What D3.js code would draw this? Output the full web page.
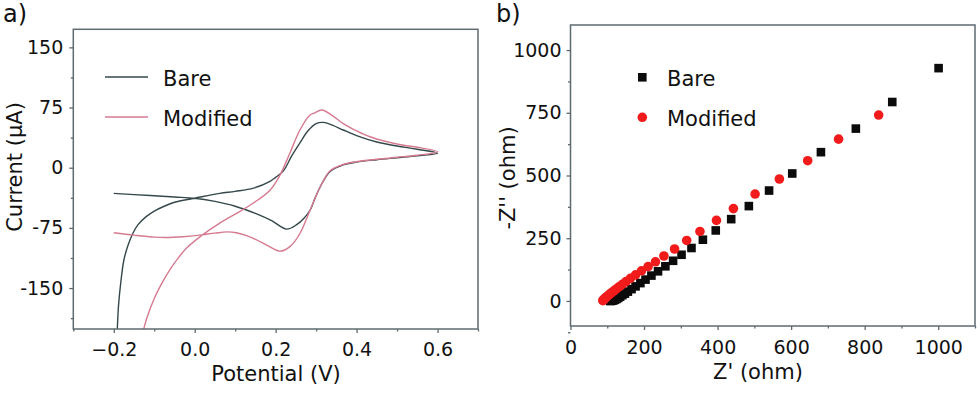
<!DOCTYPE html>
<html>
<head>
<meta charset="utf-8">
<script src="https://cdn.jsdelivr.net/npm/d3@7"></script>
<style>
  body { margin: 0; background: #fff; }
  svg { display: block; }
  text { font-family: "DejaVu Sans", "Liberation Sans", Arial, sans-serif; fill: #111; }
</style>
</head>
<body>
<div id="chart"></div>
<script>
// panel a: cyclic voltammetry
const cvTicksX = [-0.2, 0.0, 0.2, 0.4, 0.6];
const cvTicksY = [-150, -75, 0, 75, 150];
const bareE = [-0.2, -0.15, -0.1, -0.05, 0, 0.05, 0.1, 0.15, 0.19, 0.227, 0.252, 0.27, 0.285, 0.298, 0.31, 0.334, 0.367, 0.4, 0.45, 0.5, 0.55, 0.6,
  0.55, 0.5, 0.45, 0.4, 0.367, 0.34, 0.318, 0.3, 0.28, 0.26, 0.24, 0.219, 0.2, 0.186, 0.145, 0.1, 0.062, 0, -0.05, -0.078, -0.1, -0.12, -0.14, -0.153, -0.165, -0.175, -0.182, -0.188, -0.192];
const bareI = [-32, -33.5, -35, -36.5, -38, -42, -48, -57, -66, -76.5, -71, -63, -53, -37, -24, -5, 3.5, 7, 10, 12.5, 15, 18,
  23, 27, 32, 40, 47, 53, 56.5, 55, 46, 31, 15, -4, -12, -17, -25.5, -29.5, -32, -38, -43, -48.6, -54, -61, -71, -82, -97, -115, -140, -170, -210];
const modE = [-0.2, -0.15, -0.1, -0.07, -0.03, 0.012, 0.05, 0.08, 0.103, 0.13, 0.153, 0.18, 0.211, 0.236, 0.26, 0.285, 0.31, 0.334, 0.367, 0.4, 0.45, 0.5, 0.55, 0.6,
  0.55, 0.516, 0.47, 0.433, 0.4, 0.367, 0.34, 0.314, 0.295, 0.285, 0.26, 0.235, 0.211, 0.186, 0.145, 0.103, 0.062, 0.021, -0.02, -0.04, -0.06, -0.08, -0.1, -0.12, -0.13];
const modI = [-81, -84, -86.5, -87, -86, -84, -81.5, -80, -81, -85, -90, -97, -104, -98, -82, -53, -24, -4, 4, 7.5, 10.5, 13, 15.5, 20,
  25.5, 28, 33, 38.6, 46, 55, 65, 72, 68, 65.6, 47, 18, -9, -28, -44, -57, -69, -83, -100, -112, -126, -143, -163, -190, -210];

// panel b: impedance (Nyquist)
const eisTicksX = [0, 200, 400, 600, 800, 1000];
const eisTicksY = [0, 250, 500, 750, 1000];
const bareZre = [108, 110, 112, 115, 118, 121, 125, 130, 135, 141, 148, 156, 166, 177, 190, 204, 220, 238, 258, 279, 302, 329, 360, 395, 437, 485, 540, 603, 681, 776, 875, 1001];
const bareZim = [0, 0, 1, 2, 3, 5, 8, 12, 17, 23, 29, 37, 47, 58, 71, 85, 101, 118, 138, 160, 184, 211, 244, 281, 326, 378, 440, 508, 593, 687, 793, 928];
const modZre = [88, 89, 91, 93, 96, 99, 103, 107, 112, 118, 124, 132, 141, 151, 163, 177, 193, 211, 231, 254, 283, 316, 352, 397, 443, 502, 568, 645, 729, 838];
const modZim = [1, 3, 6, 9, 13, 17, 22, 27, 33, 40, 47, 56, 66, 77, 90, 104, 120, 137, 156, 179, 207, 241, 277, 321, 368, 426, 486, 559, 645, 741];

const bareColor = "#34484b";
const modColor = "#d67a90";
const frameColor = "#5d6a70";

const svg = d3.select("#chart")
  .append("svg")
  .attr("width", 980)
  .attr("height", 393);

function frame(g, x, y) {
  const [x0, x1] = x.range();
  const [y0, y1] = y.range();
  g.append("rect")
    .attr("x", x0).attr("y", y1)
    .attr("width", x1 - x0).attr("height", y0 - y1)
    .attr("fill", "none")
    .attr("stroke", frameColor)
    .attr("stroke-width", 1.5);
}

function axes(g, x, y, xt, yt, xMinor, yMinor, fx, fy, padX, padY) {
  const y0 = y.range()[0];
  const x0 = x.range()[0];
  const gx = g.append("g").attr("transform", `translate(0,${y0})`)
    .call(d3.axisBottom(x).tickValues(xt).tickFormat(fx).tickSize(4).tickPadding(padX));
  const gxm = g.append("g").attr("transform", `translate(0,${y0})`)
    .call(d3.axisBottom(x).tickValues(xMinor).tickFormat("").tickSize(2.5));
  const gy = g.append("g").attr("transform", `translate(${x0},0)`)
    .call(d3.axisLeft(y).tickValues(yt).tickFormat(fy).tickSize(4).tickPadding(padY));
  const gym = g.append("g").attr("transform", `translate(${x0},0)`)
    .call(d3.axisLeft(y).tickValues(yMinor).tickFormat("").tickSize(2.5));
  [gx, gxm, gy, gym].forEach(a => {
    a.select(".domain").remove();
    a.selectAll("line").attr("stroke", frameColor).attr("stroke-width", 1.3);
    a.selectAll("text").style("font-size", "19px").attr("fill", "#111");
  });
}

// ---- panel a ----
const xA = d3.scaleLinear().domain([-0.3, 0.7]).range([73.3, 478]);
const yA = d3.scaleLinear().domain([-201, 172.5]).range([329, 29.3]);
const ga = svg.append("g");

svg.append("defs").append("clipPath").attr("id", "clipA")
  .append("rect").attr("x", 73.3).attr("y", 29.3).attr("width", 478 - 73.3).attr("height", 329 - 29.3);

const line = d3.line().x(d => xA(d[0])).y(d => yA(d[1])).curve(d3.curveCatmullRom.alpha(0.5));
const cvSeries = [
  { name: "Bare", color: bareColor, pts: bareE.map((e, i) => [e, bareI[i]]) },
  { name: "Modified", color: modColor, pts: modE.map((e, i) => [e, modI[i]]) }
];

ga.append("g").attr("clip-path", "url(#clipA)")
  .selectAll("path")
  .data(cvSeries)
  .enter()
  .append("path")
  .attr("d", d => line(d.pts))
  .attr("fill", "none")
  .attr("stroke", d => d.color)
  .attr("stroke-width", 1.4);

axes(ga, xA, yA, cvTicksX, cvTicksY,
  [-0.3, -0.1, 0.1, 0.3, 0.5, 0.7], [-187.5, -112.5, -37.5, 37.5, 112.5],
  d3.format(".1f"), d => d, 10, 6);
frame(ga, xA, yA);

const legA = ga.selectAll(".legA").data(cvSeries).enter().append("g")
  .attr("transform", (d, i) => `translate(105,${77 + i * 40})`);
legA.append("line").attr("x1", 0).attr("x2", 43)
  .attr("stroke", d => d.color).attr("stroke-width", 1.6);
legA.append("text").attr("x", 58).attr("y", 8.5)
  .style("font-size", "21px").text(d => d.name);

ga.append("text").attr("x", 276).attr("y", 381).attr("text-anchor", "middle")
  .style("font-size", "21px").text("Potential (V)");
ga.append("text").attr("transform", "translate(22,167) rotate(-90)").attr("text-anchor", "middle")
  .style("font-size", "21px").text("Current (μA)");
ga.append("text").attr("x", 3).attr("y", 22).style("font-size", "24px").text("a)");

// ---- panel b ----
const xB = d3.scaleLinear().domain([0, 1100]).range([570.5, 975]);
const yB = d3.scaleLinear().domain([-100, 1100]).range([326, 25]);
const gb = svg.append("g");

axes(gb, xB, yB, eisTicksX, eisTicksY,
  [100, 300, 500, 700, 900, 1100], [-125, 125, 375, 625, 875],
  d => d, d => d, 11, 5);
frame(gb, xB, yB);

const sq = 8.6;
gb.append("g").selectAll("rect")
  .data(bareZre.map((z, i) => [z, bareZim[i]]))
  .enter()
  .append("rect")
  .attr("x", d => xB(d[0]) - sq / 2)
  .attr("y", d => yB(d[1]) - sq / 2)
  .attr("width", sq).attr("height", sq)
  .attr("fill", "#0b0b0b");

gb.append("g").selectAll("circle")
  .data(modZre.map((z, i) => [z, modZim[i]]))
  .enter()
  .append("circle")
  .attr("cx", d => xB(d[0]))
  .attr("cy", d => yB(d[1]))
  .attr("r", 4.8)
  .attr("fill", "#f21b1b");

gb.append("rect").attr("x", 642.3 - sq / 2).attr("y", 77.3 - sq / 2)
  .attr("width", sq).attr("height", sq).attr("fill", "#0b0b0b");
gb.append("circle").attr("cx", 642.3).attr("cy", 117.3).attr("r", 4.8).attr("fill", "#f21b1b");
gb.append("text").attr("x", 667).attr("y", 85.5).style("font-size", "21px").text("Bare");
gb.append("text").attr("x", 667).attr("y", 125.5).style("font-size", "21px").text("Modified");

gb.append("text").attr("x", 758).attr("y", 379).attr("text-anchor", "middle")
  .style("font-size", "21px").text("Z' (ohm)");
gb.append("text").attr("transform", "translate(515,178) rotate(-90)").attr("text-anchor", "middle")
  .style("font-size", "21px").text("-Z'' (ohm)");
gb.append("text").attr("x", 496).attr("y", 22).style("font-size", "24px").text("b)");
</script>
</body>
</html>
